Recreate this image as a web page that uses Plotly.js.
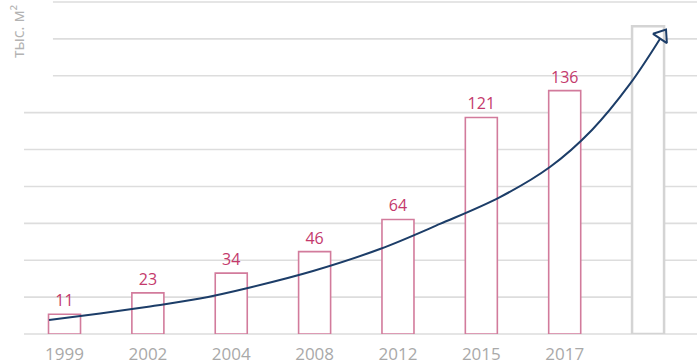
<!DOCTYPE html>
<html>
<head>
<meta charset="utf-8">
<script src="https://cdn.plot.ly/plotly-3.0.1.min.js"></script>
<style>html,body{margin:0;padding:0;background:#fff;}#chart{width:700px;height:364px;}</style>
</head>
<body>
<div id="chart"></div>
<script>
// ---- data ----
const years = ['1999', '2002', '2004', '2008', '2012', '2015', '2017', ''];
const values = [11, 23, 34, 46, 64, 121, 136, 172];
const valueLabels = ['11', '23', '34', '46', '64', '121', '136', ''];
// growth arrow (x in category-index units, y in value units)
const trendX = [-0.186, 0.426, 1.026, 1.625, 2.225, 2.981, 3.784, 4.504, 5.224, 5.823, 6.327, 6.783, 7.142];
const trendY = [7.8, 11.5, 15.4, 19.8, 26.0, 35.2, 47.5, 61.5, 76.5, 93.3, 114.0, 139.7, 164.8];
const arrowHeadX = [7.167];
const arrowHeadY = [166.8];
const yTitle = 'тыс. м²';

const idx = years.map((_, i) => i);
const pink = '#d27b9c';
const navy = '#1c3d68';

const barTrace = {
  type: 'bar',
  x: idx,
  y: values,
  width: 0.384,
  marker: {
    color: 'rgba(255,255,255,1)',
    line: {color: years.map(y => y === '' ? '#d4d4d4' : pink), width: years.map(y => y === '' ? 2.5 : 1.6)}
  },
  text: valueLabels,
  textposition: 'outside',
  constraintext: 'none',
  cliponaxis: false,
  outsidetextfont: {family: 'Open Sans, sans-serif', size: 16, color: '#c4396c'},
  hoverinfo: 'skip'
};

const lineTrace = {
  type: 'scatter',
  mode: 'lines',
  x: trendX,
  y: trendY,
  line: {color: navy, width: 2, shape: 'spline', smoothing: 1},
  hoverinfo: 'skip',
  cliponaxis: false
};

const headTrace = {
  type: 'scatter',
  mode: 'markers',
  x: arrowHeadX,
  y: arrowHeadY,
  marker: {symbol: 'triangle-up-open', size: 14.4, angle: 34, color: navy, line: {width: 2, color: navy}},
  hoverinfo: 'skip',
  cliponaxis: false
};

// grid lines (style only, in paper coordinates)
const shapes = [];
for (let k = 0; k <= 9; k++) {
  shapes.push({
    type: 'line', xref: 'paper', yref: 'paper',
    x0: k >= 7 ? 0.043 : 0, x1: 1, y0: k / 9, y1: k / 9,
    line: {color: '#dddddd', width: 1.6}, layer: 'below'
  });
}

const layout = {
  width: 700, height: 364,
  margin: {l: 24, r: 3, t: 2, b: 30},
  paper_bgcolor: '#ffffff', plot_bgcolor: 'rgba(0,0,0,0)',
  showlegend: false,
  bargap: 0,
  xaxis: {
    type: 'linear', range: [-0.486, 7.587],
    tickvals: idx, ticktext: years,
    showgrid: false, zeroline: false, showline: false, ticks: '',
    ticklabelstandoff: 8,
    tickfont: {family: 'Open Sans, sans-serif', size: 17, color: '#a9a9a9'},
    fixedrange: true
  },
  yaxis: {
    range: [0, 185.5],
    showgrid: false, zeroline: false, showline: false, showticklabels: false, ticks: '',
    fixedrange: true
  },
  shapes: shapes,
  annotations: [{
    text: yTitle, xref: 'paper', yref: 'paper', x: -0.008, y: 0.997,
    xanchor: 'center', yanchor: 'top', textangle: -90, showarrow: false,
    font: {family: 'Open Sans, sans-serif', size: 16, color: '#b3b3b3'}
  }]
};

Plotly.newPlot('chart', [barTrace, lineTrace, headTrace], layout, {displayModeBar: false, staticPlot: true});
</script>
</body>
</html>
